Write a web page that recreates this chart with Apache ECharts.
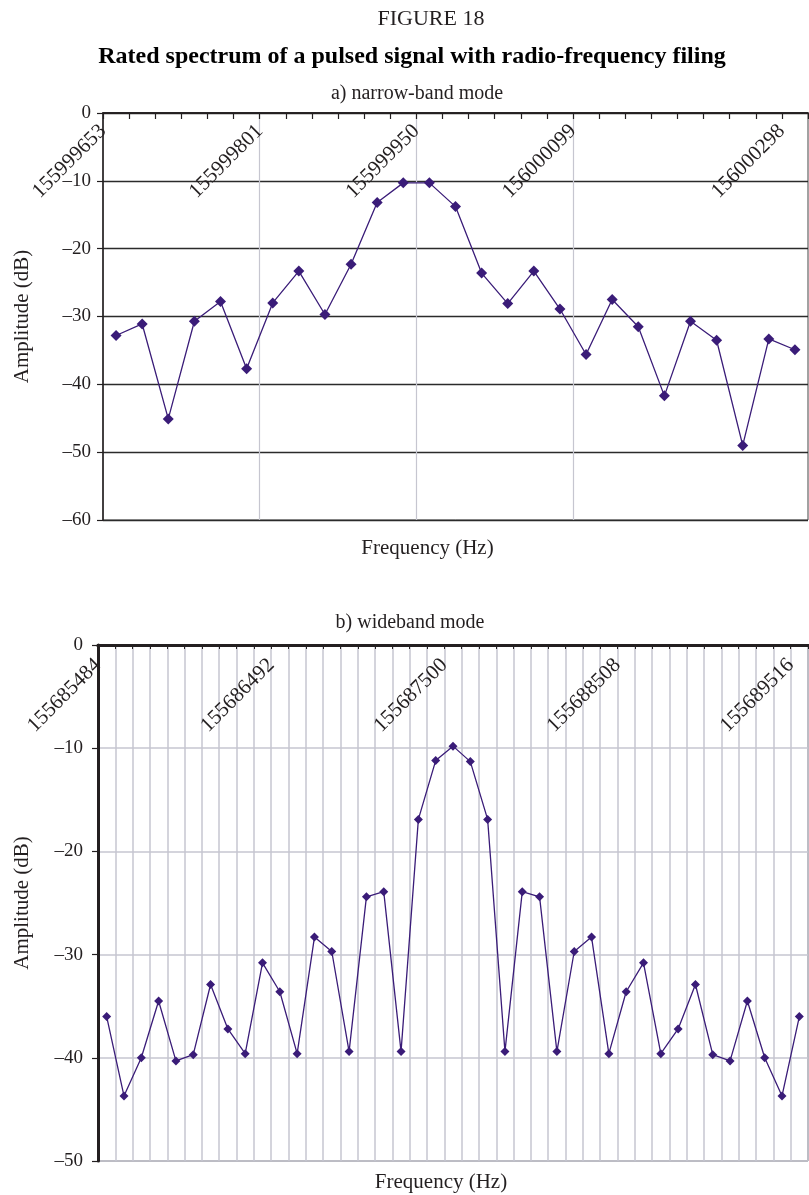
<!DOCTYPE html>
<html>
<head>
<meta charset="utf-8">
<title>Rated spectrum of a pulsed signal with radio-frequency filing</title>
<script src="https://cdn.jsdelivr.net/npm/echarts@6/dist/echarts.min.js"></script>
<style>
  html, body { margin: 0; padding: 0; background: #fff; }
  #chart { width: 809px; height: 1195px; }
</style>
</head>
<body>
<div id="chart"></div>
<script>
// a) narrow-band mode: amplitude (dB) of each frequency bin
const narrowLevels = [
  -32.8, -31.1, -45.1, -30.7, -27.8, -37.7, -28.0, -23.3, -29.7, -22.3,
  -13.2, -10.3, -10.3, -13.8, -23.6, -28.1, -23.3, -28.9, -35.6, -27.5,
  -31.5, -41.7, -30.7, -33.5, -49.0, -33.3, -34.9
];
// frequency labels (Hz) and the bin boundary each one sits on
const narrowFreqLabels = ['155999653', '155999801', '155999950', '156000099', '156000298'];
const narrowFreqSlots = [0, 6, 12, 18, 26];
const narrowGridSlots = [6, 12, 18];

// b) wideband mode: amplitude (dB) of each frequency bin
const wideLevels = [
  -36.0, -43.7, -40.0, -34.5, -40.3, -39.7, -32.9, -37.2, -39.6, -30.8,
  -33.6, -39.6, -28.3, -29.7, -39.4, -24.4, -23.9, -39.4, -16.9, -11.2,
  -9.8,
  -11.3, -16.9, -39.4, -23.9, -24.4, -39.4, -29.7, -28.3, -39.6, -33.6,
  -30.8, -39.6, -37.2, -32.9, -39.7, -40.3, -34.5, -40.0, -43.7, -36.0
];
const wideFreqLabels = ['155685484', '155686492', '155687500', '155688508', '155689516'];
const wideFreqSlots = [0, 10, 20, 30, 40];

const SERIF = '"Liberation Serif", "DejaVu Serif", serif';
const INK = '#231f20';
const PURPLE = '#3a1c78';

// one category per bin for the data, one per bin edge for the frequency ticks
function binCats(n) { return Array.from({ length: n }, (_, i) => String(i + 1)); }
function edgeCats(n, labels, slots) {
  const out = Array.from({ length: n + 1 }, () => '');
  slots.forEach((s, k) => { out[s] = labels[k]; });
  return out;
}
const dashMinus = v => (v < 0 ? '\u2013' + Math.abs(v) : String(v));

const chart = echarts.init(document.getElementById('chart'), null, { renderer: 'canvas' });

const option = {
  animation: false,
  backgroundColor: '#fff',
  textStyle: { fontFamily: SERIF, color: INK },
  graphic: [
    { type: 'text', x: 431, y: 19, style: { text: 'FIGURE 18', font: '22px ' + SERIF, fill: INK, align: 'center', verticalAlign: 'middle' } },
    { type: 'text', x: 412, y: 57, style: { text: 'Rated spectrum of a pulsed signal with radio-frequency filing', font: 'bold 24px ' + SERIF, fill: '#000', align: 'center', verticalAlign: 'middle' } },
    { type: 'text', x: 417, y: 94, style: { text: 'a) narrow-band mode', font: '20px ' + SERIF, fill: INK, align: 'center', verticalAlign: 'middle' } },
    { type: 'text', x: 410, y: 623, style: { text: 'b) wideband mode', font: '20px ' + SERIF, fill: INK, align: 'center', verticalAlign: 'middle' } }
  ],
  grid: [
    { left: 103, right: 1, top: 113, height: 407, show: true, borderColor: '#444', borderWidth: 1, backgroundColor: 'transparent', outerBoundsMode: 'none' },
    { left: 98, right: 1, top: 645, height: 516, show: true, borderColor: '#444', borderWidth: 1, backgroundColor: 'transparent', outerBoundsMode: 'none' }
  ],
  xAxis: [
    {
      type: 'category', gridIndex: 0, position: 'bottom', boundaryGap: true,
      data: binCats(narrowLevels.length),
      axisLine: { show: true, lineStyle: { color: INK, width: 1.5 } },
      axisTick: { show: false }, axisLabel: { show: false }, splitLine: { show: false },
      name: 'Frequency (Hz)', nameLocation: 'middle', nameGap: 18, nameMoveOverlap: false,
      nameTextStyle: { fontFamily: SERIF, fontSize: 21, color: INK, padding: [0, 56, 0, 0] }
    },
    {
      type: 'category', gridIndex: 0, position: 'top', boundaryGap: false,
      data: edgeCats(narrowLevels.length, narrowFreqLabels, narrowFreqSlots),
      axisLine: { show: true, lineStyle: { color: INK, width: 1.5 } },
      axisTick: { show: true, inside: true, length: 6, interval: 0, lineStyle: { color: INK, width: 1.2 } },
      axisLabel: { show: true, inside: true, rotate: -45, interval: 0, margin: 15, fontFamily: SERIF, fontSize: 21, color: INK, hideOverlap: false },
      splitLine: {
        show: true,
        interval: (idx) => narrowGridSlots.indexOf(idx) >= 0,
        lineStyle: { color: '#c6c6d0', width: 1.2 }
      }
    },
    {
      type: 'category', gridIndex: 1, position: 'bottom', boundaryGap: true,
      data: binCats(wideLevels.length),
      axisLine: { show: true, lineStyle: { color: INK, width: 3 } },
      axisTick: { show: false }, axisLabel: { show: false }, splitLine: { show: false },
      name: 'Frequency (Hz)', nameLocation: 'middle', nameGap: 11, nameMoveOverlap: false,
      nameTextStyle: { fontFamily: SERIF, fontSize: 21, color: INK, padding: [0, 24, 0, 0] }
    },
    {
      type: 'category', gridIndex: 1, position: 'top', boundaryGap: false,
      data: edgeCats(wideLevels.length, wideFreqLabels, wideFreqSlots),
      axisLine: { show: true, lineStyle: { color: INK, width: 3 } },
      axisTick: { show: true, inside: true, length: 4, interval: 0, lineStyle: { color: INK, width: 1 } },
      axisLabel: { show: true, inside: true, rotate: -45, interval: 0, margin: 17, fontFamily: SERIF, fontSize: 21, color: INK, hideOverlap: false },
      splitLine: { show: true, interval: 0, lineStyle: { color: '#c6c6d0', width: 1.5 } }
    }
  ],
  yAxis: [
    {
      type: 'value', gridIndex: 0, min: -60, max: 0, interval: 10,
      axisLine: { show: true, lineStyle: { color: INK, width: 1.5 } },
      axisTick: { show: true, inside: false, length: 6, lineStyle: { color: INK, width: 1.2 } },
      axisLabel: { formatter: dashMinus, margin: 12, fontFamily: SERIF, fontSize: 19, color: INK },
      splitLine: { show: true, lineStyle: { color: '#2b2b2b', width: 1.3 } },
      name: 'Amplitude (dB)', nameLocation: 'middle', nameRotate: 90, nameGap: 70, nameMoveOverlap: false,
      nameTextStyle: { fontFamily: SERIF, fontSize: 21, color: INK }
    },
    {
      type: 'value', gridIndex: 1, min: -50, max: 0, interval: 10,
      axisLine: { show: true, lineStyle: { color: INK, width: 3 } },
      axisTick: { show: true, inside: false, length: 6, lineStyle: { color: INK, width: 1.2 } },
      axisLabel: { formatter: dashMinus, margin: 15, fontFamily: SERIF, fontSize: 19, color: INK },
      splitLine: { show: true, lineStyle: { color: '#c6c6d0', width: 1.5 } },
      name: 'Amplitude (dB)', nameLocation: 'middle', nameRotate: 90, nameGap: 65, nameMoveOverlap: false,
      nameTextStyle: { fontFamily: SERIF, fontSize: 21, color: INK }
    }
  ],
  series: [
    {
      name: 'narrow-band', type: 'line', xAxisIndex: 0, yAxisIndex: 0,
      data: narrowLevels,
      symbol: 'diamond', symbolSize: 11,
      itemStyle: { color: PURPLE },
      lineStyle: { color: PURPLE, width: 1.3 },
      z: 5
    },
    {
      name: 'wideband', type: 'line', xAxisIndex: 2, yAxisIndex: 1,
      data: wideLevels,
      symbol: 'diamond', symbolSize: 9,
      itemStyle: { color: PURPLE },
      lineStyle: { color: PURPLE, width: 1.3 },
      z: 5
    }
  ]
};

chart.setOption(option);
</script>
</body>
</html>
